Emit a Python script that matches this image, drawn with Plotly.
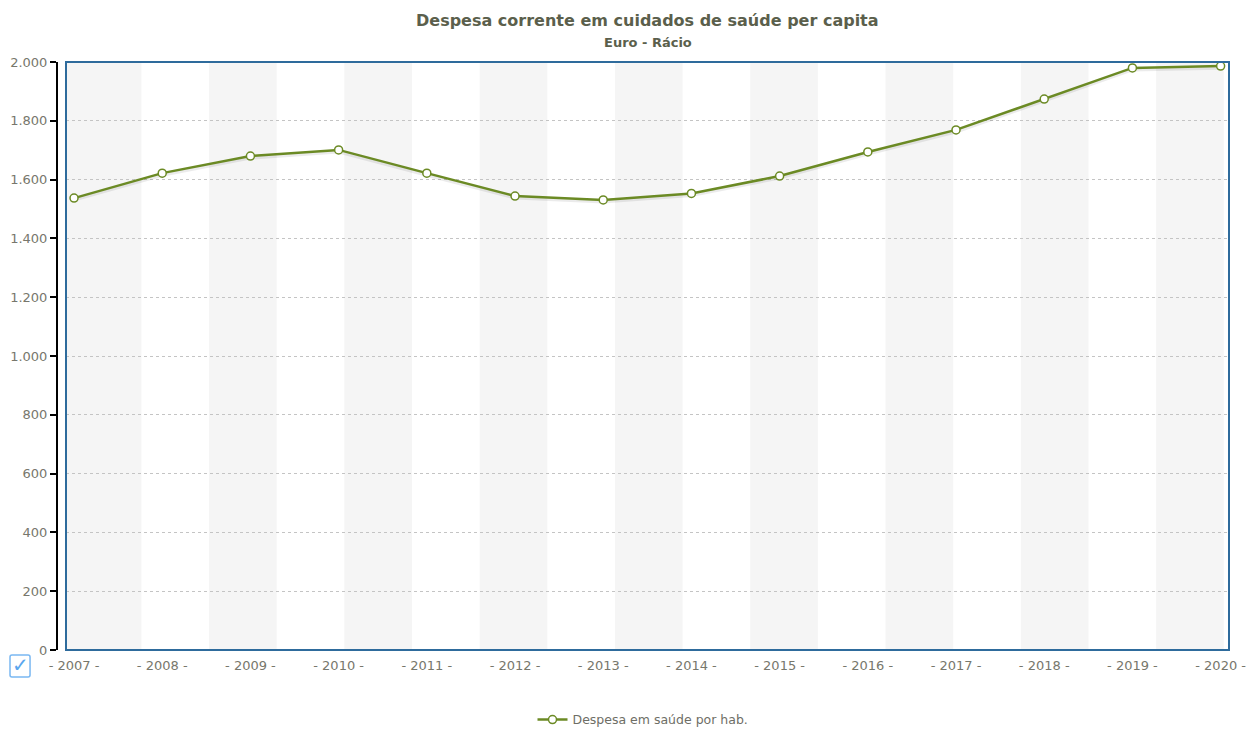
import numpy as np
import plotly.graph_objects as go

# Despesa corrente em cuidados de saúde per capita (Euro)
anos = [2007, 2008, 2009, 2010, 2011, 2012, 2013, 2014, 2015, 2016, 2017, 2018, 2019, 2020]
despesa = [1537, 1622, 1680, 1701, 1622, 1544, 1531, 1553, 1612, 1694, 1769, 1874, 1980, 1986]
y_ticks = [0, 200, 400, 600, 800, 1000, 1200, 1400, 1600, 1800, 2000]
x_labels = [f"- {a} -" for a in anos]

titulo = "Despesa corrente em cuidados de saúde per capita"
subtitulo = "Euro - Rácio"
serie = "Despesa em saúde por hab."

VERDE = "#6b8a24"
TEXTO = "#77776c"
FONTE = "DejaVu Sans"

x_min, x_max = 2006.909, 2020.095

fig = go.Figure()

# soft drop shadow under the line
fig.add_trace(go.Scatter(
    x=anos, y=[v - 7 for v in despesa], mode="lines",
    line=dict(color="rgba(0,0,0,0.08)", width=3),
    hoverinfo="skip", showlegend=False,
))

fig.add_trace(go.Scatter(
    x=anos, y=despesa, mode="lines+markers", name=serie,
    line=dict(color=VERDE, width=2.5),
    marker=dict(symbol="circle", size=8, color="white",
                line=dict(color=VERDE, width=1.5)),
))

# alternating background bands (the first one is clipped by the left edge)
shapes = []
band_w = 0.767
for start in np.arange(2006.997, x_max, 2 * band_w):
    x0 = x_min if start < 2007.5 else start
    x1 = min(start + band_w, x_max)
    shapes.append(dict(type="rect", xref="x", yref="y domain", x0=x0, x1=x1,
                       y0=0, y1=1, fillcolor="#f5f5f5", line=dict(width=0),
                       layer="below"))

# blue frame around the plotting area
shapes.append(dict(type="rect", xref="x domain", yref="y domain", x0=0, x1=1,
                   y0=0, y1=1, line=dict(color="#2e6b9c", width=2)))

# checkbox icon, bottom-left
shapes.append(dict(type="path", xref="paper", yref="paper",
                   path="M -0.0384,-0.0085 L -0.0247,-0.0085 Q -0.0230,-0.0085 -0.0230,-0.0119 "
                        "L -0.0230,-0.0425 Q -0.0230,-0.0459 -0.0247,-0.0459 L -0.0384,-0.0459 "
                        "Q -0.0401,-0.0459 -0.0401,-0.0425 L -0.0401,-0.0119 Q -0.0401,-0.0085 -0.0384,-0.0085 Z",
                   line=dict(color="#7ab8f2", width=1.5), fillcolor="white"))

annotations = [
    dict(text=f"<b>{titulo}</b>", xref="x domain", yref="paper", x=0.5, y=1.0714,
         showarrow=False, font=dict(family=FONTE, size=16, color="#5b5f4c"),
         yanchor="middle"),
    dict(text=f"<b>{subtitulo}</b>", xref="x domain", yref="paper", x=0.5, y=1.034,
         showarrow=False, font=dict(family=FONTE, size=13, color="#5b5f4c"),
         yanchor="middle"),
    dict(text="✓", xref="paper", yref="paper", x=-0.0314, y=-0.0262,
         showarrow=False, font=dict(family=FONTE, size=20, color="#5aa6ee"),
         xanchor="center", yanchor="middle"),
]

fig.update_layout(
    width=1246, height=729,
    margin=dict(l=57, r=17, t=62, b=79, autoexpand=False),
    paper_bgcolor="white", plot_bgcolor="white",
    separators=",.",
    font=dict(family=FONTE, size=13, color=TEXTO),
    shapes=shapes, annotations=annotations,
    showlegend=True,
    legend=dict(orientation="h", x=0.5, xanchor="center", y=-0.119,
                yanchor="middle", font=dict(size=12.5, color="#6e6e66")),
    xaxis=dict(
        domain=[9 / 1172, 1], range=[x_min, x_max], automargin=False,
        tickvals=anos, ticktext=x_labels, ticks="", ticklabelstandoff=6,
        ticklabeloverflow="allow",
        showgrid=False, zeroline=False, showline=False,
        tickfont=dict(size=13, color=TEXTO),
    ),
    yaxis=dict(
        anchor="free", position=0, range=[0, 2000], automargin=False,
        tickvals=y_ticks, tickformat=",d",
        showline=True, linecolor="black", linewidth=2,
        ticks="outside", ticklen=6, tickcolor="black", tickwidth=2,
        showgrid=True, gridcolor="#c4c4c4", griddash="dot", gridwidth=1,
        zeroline=False, tickfont=dict(size=13, color=TEXTO),
    ),
)

fig.write_html("out.html")
